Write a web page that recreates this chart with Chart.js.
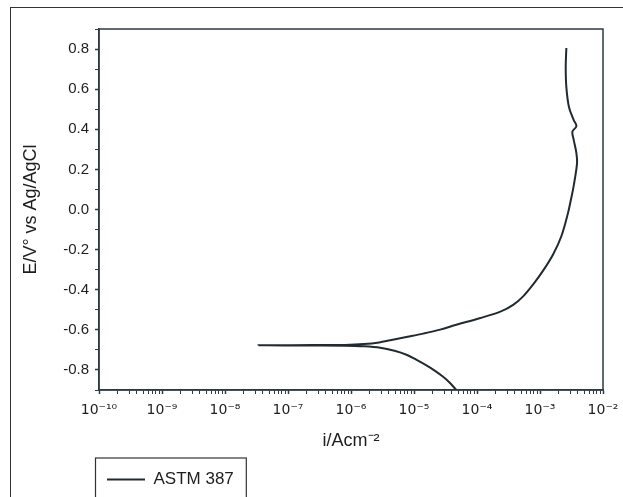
<!DOCTYPE html>
<html>
<head>
<meta charset="utf-8">
<script src="https://cdn.jsdelivr.net/npm/chart.js@4.4.0/dist/chart.umd.min.js"></script>
<style>
  html, body { margin: 0; padding: 0; background: #fff; overflow: hidden; }
  #page { position: relative; width: 623px; height: 497px; overflow: hidden; }
  #frame { position: absolute; left: 10px; top: 7px; width: 700px; height: 600px; border: 1.5px solid #333; }
  #chart { position: absolute; left: 0; top: 0; }
</style>
</head>
<body>
<div id="page">
  <div id="frame"></div>
  <canvas id="chart" width="623" height="520"></canvas>
</div>
<script>
// polarisation curve: current density (A/cm2) and potential (V)
var seriesName = 'ASTM 387';
var current = [
  4.7e-5, 3.7e-5, 2.9e-5, 2.1e-5, 1.55e-5, 1.1e-5, 7.6e-6, 4.9e-6, 2.9e-6, 1.6e-6,
  8e-7, 2.5e-7, 3.4e-8, 2.5e-7, 8e-7, 1.6e-6, 2.8e-6, 4.2e-6, 7.9e-6, 1.4e-5,
  2.6e-5, 4.7e-5, 1.1e-4, 2.4e-4, 3.8e-4, 5.4e-4, 7.8e-4, 1.12e-3, 1.62e-3, 2.19e-3,
  2.79e-3, 3.1e-3, 3.34e-3, 3.56e-3, 3.87e-3, 3.78e-3, 3.43e-3, 3.27e-3, 3.78e-3, 3.43e-3,
  2.88e-3, 2.62e-3, 2.56e-3, 2.62e-3
];
var potential = [
  -0.900, -0.864, -0.834, -0.802, -0.776, -0.750, -0.724, -0.704, -0.689, -0.682,
  -0.679, -0.678, -0.677, -0.676, -0.675, -0.671, -0.663, -0.652, -0.635, -0.619,
  -0.599, -0.575, -0.542, -0.508, -0.474, -0.433, -0.373, -0.305, -0.223, -0.132,
  -0.016, 0.050, 0.099, 0.149, 0.231, 0.281, 0.347, 0.388, 0.416, 0.446,
  0.511, 0.610, 0.709, 0.805
];
var xDecades = [-10, -9, -8, -7, -6, -5, -4, -3, -2];
var yMin = -0.9, yMax = 0.9, yStep = 0.1;

var ink = '#1e1e1e';
var axisInk = '#2d3b40';
var sup = {'0':'⁰','1':'¹','2':'²','3':'³','4':'⁴','5':'⁵','6':'⁶','7':'⁷','8':'⁸','9':'⁹','-':'⁻'};
function toSup(s) { return String(s).split('').map(function(c){ return sup[c] || c; }).join(''); }

var points = current.map(function(c, i){ return {x: c, y: potential[i]}; });

var boxPlugin = {
  id: 'boxes',
  afterDraw: function(chart) {
    var ctx = chart.ctx, a = chart.chartArea;
    ctx.save();
    ctx.strokeStyle = axisInk;
    ctx.lineWidth = 1.5;
    ctx.strokeRect(a.left, a.top, a.right - a.left, a.bottom - a.top);
    var hb = chart.legend.legendHitBoxes[0];
    if (hb) {
      ctx.strokeStyle = '#333';
      ctx.lineWidth = 1.2;
      var cy = hb.top + hb.height / 2;
      ctx.strokeRect(hb.left - 11.5, cy - 21.5, hb.width + 24, 44);
    }
    ctx.restore();
  }
};

Chart.defaults.font.family = '"Liberation Sans", Arial, sans-serif';
Chart.defaults.color = ink;

new Chart('chart', {
  type: 'scatter',
  data: {
    datasets: [{
      label: seriesName,
      data: points,
      showLine: true,
      borderColor: '#1f2b30',
      backgroundColor: '#1f2b30',
      borderWidth: 2,
      pointRadius: 0,
      tension: 0.35
    }]
  },
  options: {
    responsive: false,
    animation: false,
    devicePixelRatio: 1,
    layout: { padding: { top: 29, right: 20, bottom: 22, left: 0 } },
    plugins: {
      tooltip: { enabled: false },
      legend: {
        position: 'bottom',
        align: 'start',
        fullSize: false,
        labels: {
          usePointStyle: true,
          pointStyle: 'line',
          pointStyleWidth: 38,
          padding: 8,
          color: ink,
          font: { size: 17 }
        }
      }
    },
    scales: {
      x: {
        type: 'logarithmic',
        min: Math.pow(10, xDecades[0]),
        max: Math.pow(10, xDecades[xDecades.length - 1]),
        afterBuildTicks: function(scale) {
          var t = [];
          xDecades.forEach(function(d, i) {
            if (i === xDecades.length - 1) { t.push({value: Math.pow(10, d)}); return; }
            for (var n = 1; n <= 9; n++) t.push({value: n * Math.pow(10, d)});
          });
          scale.ticks = t;
        },
        afterFit: function(scale) {
          scale.height = 73;
          scale.paddingLeft = 0;
          scale.paddingRight = 0;
        },
        ticks: {
          autoSkip: false,
          maxRotation: 0,
          padding: 8,
          color: ink,
          font: { size: 14, family: '"DejaVu Sans", sans-serif' },
          callback: function(v) {
            var e = Math.log10(v);
            if (Math.abs(e - Math.round(e)) > 1e-6) return '';
            return '10' + toSup(Math.round(e));
          }
        },
        grid: {
          drawOnChartArea: false,
          tickLength: 4,
          color: axisInk,
          tickWidth: function(c) {
            var e = Math.log10(c.tick.value);
            return Math.abs(e - Math.round(e)) < 1e-6 ? 1.5 : 1;
          }
        },
        border: { display: true, color: axisInk, width: 1.5 },
        title: {
          display: true,
          text: 'i/Acm' + toSup(-2),
          color: ink,
          font: { size: 18 },
          padding: { top: 0, bottom: 11 }
        }
      },
      y: {
        min: yMin,
        max: yMax,
        afterFit: function(scale) { scale.width = 99; },
        ticks: {
          stepSize: yStep,
          autoSkip: false,
          padding: 6,
          color: ink,
          font: { size: 15 },
          callback: function(v) {
            var k = Math.round(v * 10);
            if (k % 2 !== 0) return '';
            return (k / 10).toFixed(1);
          }
        },
        grid: {
          drawOnChartArea: false,
          tickLength: 4,
          color: axisInk,
          tickWidth: function(c) {
            return Math.round(c.tick.value * 10) % 2 === 0 ? 1.5 : 1;
          }
        },
        border: { display: true, color: axisInk, width: 1.5 },
        title: {
          display: true,
          text: 'E/V° vs Ag/AgCl',
          color: ink,
          font: { size: 18 },
          padding: { top: 20, bottom: 0 }
        }
      }
    }
  },
  plugins: [boxPlugin]
});
</script>
</body>
</html>
